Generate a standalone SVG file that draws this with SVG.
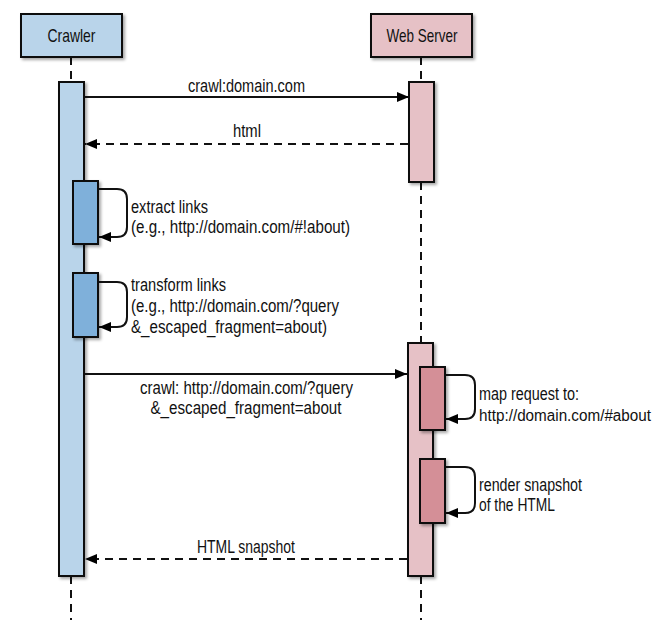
<svg xmlns="http://www.w3.org/2000/svg" width="668" height="630" viewBox="0 0 668 630">
<defs>
<filter id="sh" x="-20%" y="-20%" width="150%" height="150%">
<feDropShadow dx="2" dy="2" stdDeviation="1.5" flood-color="#000" flood-opacity="0.35"/>
</filter>
<marker id="ah" viewBox="0 0 12 10" refX="12" refY="5" markerWidth="12" markerHeight="10" markerUnits="userSpaceOnUse" orient="auto">
<path d="M0,0 L12,5 L0,10 z" fill="#000"/>
</marker>
</defs>
<style>
.t{font-family:"Liberation Sans",Arial,sans-serif;font-size:17.5px;fill:#111}
.h{font-family:"Liberation Sans",Arial,sans-serif;font-size:19px;fill:#111}
.life{stroke:#111;stroke-width:2;stroke-dasharray:8,6;fill:none}
.blue{fill:#b9d4ea;stroke:#111;stroke-width:2}
.pink{fill:#e6c1c6;stroke:#111;stroke-width:2}
.dblue{fill:#7fb0da;stroke:#111;stroke-width:2}
.dpink{fill:#d48f97;stroke:#111;stroke-width:2}
.msg{stroke:#111;stroke-width:2;fill:none;marker-end:url(#ah)}
.ret{stroke:#111;stroke-width:2;fill:none;stroke-dasharray:8,6;marker-end:url(#ah)}
</style>
<rect width="668" height="630" fill="#fff"/>

<g id="lifelines">
<line class="life" x1="71" y1="57" x2="71" y2="82"/>
<line class="life" x1="71" y1="576" x2="71" y2="620"/>
<line class="life" x1="421" y1="57" x2="421" y2="82"/>
<line class="life" x1="421" y1="182" x2="421" y2="343"/>
<line class="life" x1="421" y1="576" x2="421" y2="620"/>
</g>

<g id="crawler">
<rect class="blue" x="21" y="14" width="101" height="43" filter="url(#sh)"/>
<text class="h" x="71.5" y="41.5" text-anchor="middle" textLength="48" lengthAdjust="spacingAndGlyphs">Crawler</text>
</g>
<g id="webserver">
<rect class="pink" x="371" y="14" width="101" height="43" filter="url(#sh)"/>
<text class="h" x="422" y="41.5" text-anchor="middle" textLength="71" lengthAdjust="spacingAndGlyphs">Web Server</text>
</g>

<g id="crawler-activation">
<rect class="blue" x="59" y="82" width="25" height="494" filter="url(#sh)"/>
</g>
<g id="server-activation-1">
<rect class="pink" x="409" y="82" width="25" height="100" filter="url(#sh)"/>
</g>
<g id="server-activation-2">
<rect class="pink" x="408" y="343" width="25" height="233" filter="url(#sh)"/>
</g>
<g id="extract-links">
<rect class="dblue" x="73" y="181" width="25" height="63" filter="url(#sh)"/>
<text class="t" x="131" y="213" textLength="77" lengthAdjust="spacingAndGlyphs">extract links</text>
<text class="t" x="131" y="233" textLength="219" lengthAdjust="spacingAndGlyphs">(e.g., http://domain.com/#!about)</text>
</g>
<g id="transform-links">
<rect class="dblue" x="73" y="273" width="25" height="64" filter="url(#sh)"/>
<text class="t" x="131" y="291" textLength="95" lengthAdjust="spacingAndGlyphs">transform links</text>
<text class="t" x="131" y="312" textLength="208" lengthAdjust="spacingAndGlyphs">(e.g., http://domain.com/?query</text>
<text class="t" x="131" y="333" textLength="196" lengthAdjust="spacingAndGlyphs">&amp;_escaped_fragment=about)</text>
</g>
<g id="map-request">
<rect class="dpink" x="420" y="367" width="25" height="63" filter="url(#sh)"/>
<text class="t" x="479" y="400" textLength="100" lengthAdjust="spacingAndGlyphs">map request to:</text>
<text class="t" x="479" y="421" style="font-size:16px" textLength="172" lengthAdjust="spacingAndGlyphs">http://domain.com/#about</text>
</g>
<g id="render-snapshot">
<rect class="dpink" x="420" y="459" width="25" height="64" filter="url(#sh)"/>
<text class="t" x="479" y="491" textLength="103" lengthAdjust="spacingAndGlyphs">render snapshot</text>
<text class="t" x="479" y="511" textLength="76" lengthAdjust="spacingAndGlyphs">of the HTML</text>
</g>

<g id="connectors">
<line class="msg" x1="85" y1="97" x2="409" y2="97"/>
<text class="t" x="246.5" y="92" text-anchor="middle" textLength="117" lengthAdjust="spacingAndGlyphs">crawl:domain.com</text>
<line class="ret" x1="408" y1="144" x2="85" y2="144"/>
<text class="t" x="247" y="137" text-anchor="middle" textLength="28" lengthAdjust="spacingAndGlyphs">html</text>
<path class="msg" d="M99,189 H117 Q127,189 127,199 V227 Q127,237 117,237 H99"/>
<path class="msg" d="M99,282 H117 Q127,282 127,292 V317 Q127,327 117,327 H99"/>
<line class="msg" x1="85" y1="374" x2="407" y2="374"/>
<text class="t" x="246.5" y="394" text-anchor="middle" textLength="213" lengthAdjust="spacingAndGlyphs">crawl: http://domain.com/?query</text>
<text class="t" x="246" y="414" text-anchor="middle" textLength="191" lengthAdjust="spacingAndGlyphs">&amp;_escaped_fragment=about</text>
<path class="msg" d="M446,375 H465 Q475,375 475,385 V409 Q475,419 465,419 H446"/>
<path class="msg" d="M446,467 H465 Q475,467 475,477 V503 Q475,513 465,513 H446"/>
<line class="ret" x1="407" y1="559" x2="85" y2="559"/>
<text class="t" x="246" y="553" text-anchor="middle" textLength="98" lengthAdjust="spacingAndGlyphs">HTML snapshot</text>
</g>
</svg>
